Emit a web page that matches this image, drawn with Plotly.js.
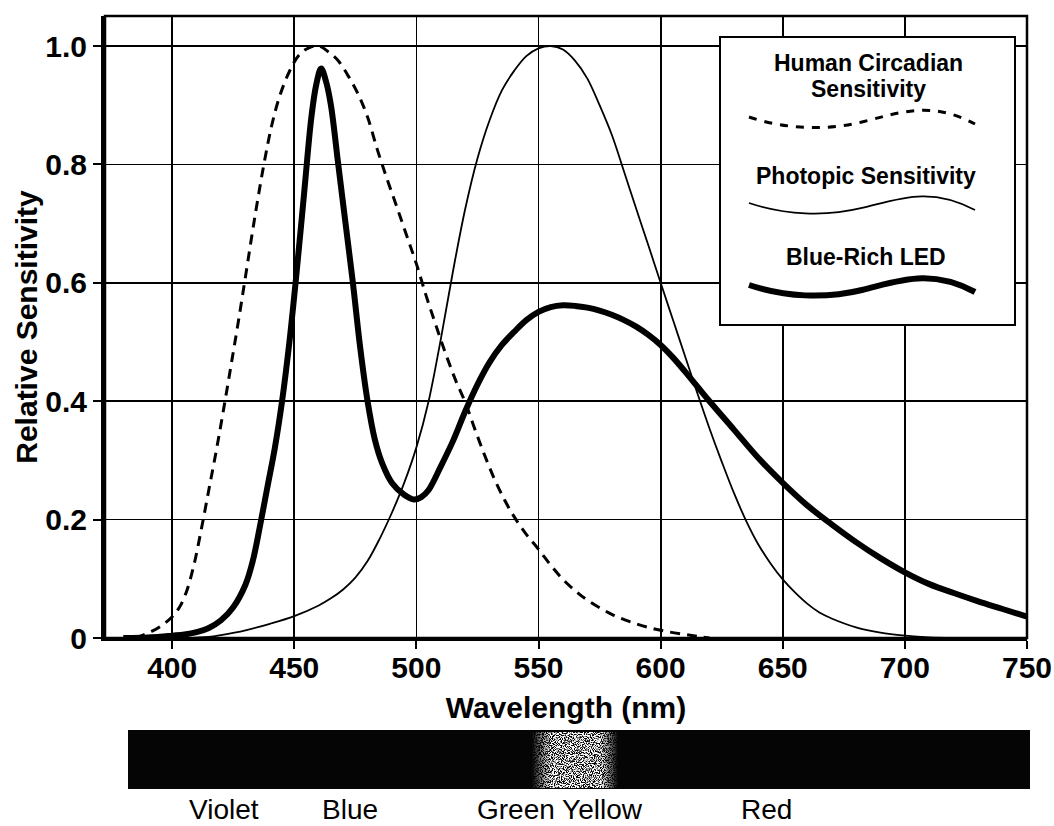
<!DOCTYPE html>
<html>
<head>
<meta charset="utf-8">
<script src="https://cdn.plot.ly/plotly-3.0.1.min.js"></script>
<style>
  html, body { margin: 0; padding: 0; background: #fff; }
  #chart { width: 1054px; height: 826px; }
</style>
</head>
<body>
<div id="chart"></div>
<script>
// ---------- data ----------
const circadianWavelength = [385,388,392,396,400,403,406,409,412,415,418,421,424,427,430,434,438,441,444,448,452,456,460,464,468,472,476,480,484,488,492,496,500,504,508,512,516,520,524,528,532,536,540,545,550,555,560,565,570,580,590,600,610,615,620];
const circadianSensitivity = [0,0.005,0.012,0.022,0.036,0.052,0.08,0.125,0.185,0.25,0.315,0.385,0.458,0.532,0.61,0.715,0.81,0.87,0.915,0.957,0.985,0.997,1.0,0.99,0.975,0.95,0.92,0.88,0.825,0.775,0.728,0.68,0.632,0.578,0.528,0.48,0.436,0.398,0.352,0.308,0.268,0.234,0.205,0.175,0.15,0.123,0.099,0.08,0.064,0.04,0.024,0.013,0.006,0.003,0];

const photopicWavelength = [405,415,420,430,440,450,460,465,470,475,480,485,490,495,500,505,510,515,520,525,530,535,540,545,550,555,560,565,570,575,580,585,590,595,600,605,610,615,620,625,630,635,640,645,650,655,660,665,670,680,690,700,710,720];
const photopicSensitivity = [0,0.002,0.005,0.013,0.024,0.037,0.055,0.067,0.082,0.102,0.13,0.168,0.212,0.262,0.322,0.40,0.505,0.62,0.725,0.81,0.875,0.925,0.958,0.983,0.996,1.0,0.994,0.975,0.945,0.90,0.85,0.788,0.725,0.663,0.60,0.538,0.476,0.414,0.354,0.298,0.245,0.198,0.158,0.126,0.099,0.077,0.058,0.043,0.033,0.018,0.009,0.004,0.001,0];

const ledWavelength = [380,390,395,400,405,410,415,420,425,430,433,436,439,442,445,448,451,454,457,459,461,463,465,468,471,474,477,480,483,486,490,495,499,502,505,510,515,520,525,530,535,540,545,550,555,560,565,570,575,580,585,590,595,600,605,610,615,620,630,640,650,660,670,680,690,700,710,720,730,740,750];
const ledSensitivity = [0,0.001,0.002,0.004,0.006,0.01,0.017,0.03,0.052,0.09,0.13,0.19,0.255,0.32,0.40,0.50,0.62,0.75,0.88,0.935,0.962,0.94,0.90,0.80,0.70,0.60,0.49,0.40,0.335,0.295,0.262,0.242,0.234,0.238,0.25,0.29,0.333,0.383,0.428,0.466,0.495,0.517,0.537,0.551,0.559,0.562,0.561,0.558,0.553,0.546,0.537,0.526,0.512,0.495,0.474,0.45,0.425,0.40,0.352,0.304,0.262,0.224,0.192,0.162,0.135,0.111,0.091,0.076,0.062,0.049,0.036];

const seriesNames = ['Human Circadian Sensitivity', 'Photopic Sensitivity', 'Blue-Rich LED'];
const xTickVals = [400,450,500,550,600,650,700,750];
const xTickText = ['400','450','500','550','600','650','700','750'];
const yTickVals = [0,0.2,0.4,0.6,0.8,1.0];
const yTickText = ['0','0.2','0.4','0.6','0.8','1.0'];
const spectrumLabels = ['Violet','Blue','Green Yellow','Red'];

// ---------- layout helpers (pixel -> paper) ----------
const W = 1054, H = 826;
const M = {l: 105, r: 27, t: 16, b: 188};
const PW = W - M.l - M.r, PH = H - M.t - M.b;
const px = x => (x - M.l) / PW;
const py = y => (H - M.b - y) / PH;
const pt = (x, y) => px(x).toFixed(5) + ',' + py(y).toFixed(5);
function wave(dy) {
  return 'M' + pt(749, 117 + dy) +
         ' C' + pt(785, 129 + dy) + ' ' + pt(825, 131 + dy) + ' ' + pt(862, 122 + dy) +
         ' S' + pt(930, 100 + dy) + ' ' + pt(975, 124 + dy);
}

// spectrum bar artwork (black band with a speckled light patch)
const BAR = {x0: 128, x1: 1030, y0: 730, y1: 789};
const barSvg =
  '<svg xmlns="http://www.w3.org/2000/svg" width="902" height="59" viewBox="0 0 902 59">' +
  '<defs>' +
  '<filter id="f" x="0" y="0" width="100%" height="100%">' +
  '<feTurbulence type="fractalNoise" baseFrequency="0.9" numOctaves="2" seed="7" result="t"/>' +
  '<feColorMatrix in="t" type="matrix" values="0 0 0 0 1  0 0 0 0 1  0 0 0 0 1  7 0 0 0 -2.9" result="w"/>' +
  '<feComposite in="w" in2="SourceGraphic" operator="in"/>' +
  '</filter>' +
  '<linearGradient id="g" x1="0" x2="1" y1="0" y2="0">' +
  '<stop offset="0" stop-color="#fff" stop-opacity="0"/>' +
  '<stop offset="0.22" stop-color="#fff" stop-opacity="1"/>' +
  '<stop offset="0.8" stop-color="#fff" stop-opacity="1"/>' +
  '<stop offset="1" stop-color="#fff" stop-opacity="0"/>' +
  '</linearGradient>' +
  '</defs>' +
  '<rect width="902" height="59" fill="#050505"/>' +
  '<rect x="404" y="2" width="86" height="56" fill="url(#g)" filter="url(#f)"/>' +
  '</svg>';

const FONT = 'Liberation Sans, Arial, Helvetica, sans-serif';
const black = '#000';

const SM = 1.0;
const traces = [
  {x: circadianWavelength, y: circadianSensitivity, name: seriesNames[0], type: 'scatter', mode: 'lines',
   line: {color: black, width: 3, dash: '10px,7px', shape: 'spline', smoothing: SM}},
  {x: photopicWavelength, y: photopicSensitivity, name: seriesNames[1], type: 'scatter', mode: 'lines',
   line: {color: black, width: 1.8, shape: 'spline', smoothing: SM}},
  {x: ledWavelength, y: ledSensitivity, name: seriesNames[2], type: 'scatter', mode: 'lines',
   line: {color: black, width: 6, shape: 'spline', smoothing: SM}}
];

const shapes = [
  // plot frame
  {type: 'rect', xref: 'paper', yref: 'paper', x0: 0, x1: 1, y0: 0, y1: 1,
   line: {color: black, width: 2.5}, fillcolor: 'rgba(0,0,0,0)', layer: 'above'},
  // legend box
  {type: 'rect', xref: 'paper', yref: 'paper', x0: px(720), x1: px(1015), y0: py(325), y1: py(37),
   line: {color: black, width: 2}, fillcolor: '#fff', layer: 'above'},
  {type: 'path', xref: 'paper', yref: 'paper', path: wave(0),
   line: {color: black, width: 3, dash: '8px,8px'}, layer: 'above'},
  {type: 'path', xref: 'paper', yref: 'paper', path: wave(86),
   line: {color: black, width: 1.8}, layer: 'above'},
  {type: 'path', xref: 'paper', yref: 'paper', path: wave(168),
   line: {color: black, width: 6}, layer: 'above'}
];

const images = [{
  source: 'data:image/svg+xml;charset=utf-8,' + encodeURIComponent(barSvg),
  xref: 'paper', yref: 'paper',
  x: px(BAR.x0), y: py(BAR.y0), sizex: px(BAR.x1) - px(BAR.x0), sizey: py(BAR.y0) - py(BAR.y1),
  xanchor: 'left', yanchor: 'top', sizing: 'stretch', layer: 'above'
}];

const legendFont = {family: FONT, size: 23, color: black, weight: 700};
const spectrumFont = {family: FONT, size: 28, color: black};
const annotations = [
  {text: 'Human Circadian', x: px(868), y: py(63)},
  {text: 'Sensitivity', x: px(868), y: py(89)},
  {text: 'Photopic Sensitivity', x: px(866), y: py(176)},
  {text: 'Blue-Rich LED', x: px(866), y: py(257)}
].map(a => Object.assign(a, {xref: 'paper', yref: 'paper', xanchor: 'center', yanchor: 'middle',
                              showarrow: false, font: legendFont}));

const labelX = [224, 350, 560, 766];
spectrumLabels.forEach((t, i) => annotations.push({
  text: t, x: px(labelX[i]), y: py(810), xref: 'paper', yref: 'paper',
  xanchor: 'center', yanchor: 'middle', showarrow: false, font: spectrumFont
}));

const layout = {
  width: W, height: H,
  margin: M,
  paper_bgcolor: '#fff', plot_bgcolor: '#fff',
  showlegend: false,
  font: {family: FONT, color: black},
  xaxis: {
    range: [372.5, 750],
    tickvals: xTickVals, ticktext: xTickText,
    ticks: 'outside', ticklen: 8, tickwidth: 2, tickcolor: black,
    ticklabelstandoff: -7,
    showgrid: true, gridcolor: black, gridwidth: 1.8,
    zeroline: false, showline: true, linecolor: black, linewidth: 3,
    tickfont: {family: FONT, size: 30, color: black, weight: 700},
    title: {text: 'Wavelength (nm)', standoff: 14,
            font: {family: FONT, size: 30, color: black, weight: 700}},
    automargin: false, fixedrange: true
  },
  yaxis: {
    range: [0, 1.0507],
    tickvals: yTickVals, ticktext: yTickText,
    ticks: 'outside', ticklen: 8, tickwidth: 2, tickcolor: black,
    showgrid: true, gridcolor: black, gridwidth: 1.8,
    zeroline: false, showline: true, linecolor: black, linewidth: 4,
    tickfont: {family: FONT, size: 30, color: black, weight: 700},
    title: {text: 'Relative Sensitivity', standoff: 0,
            font: {family: FONT, size: 30, color: black, weight: 700}},
    automargin: false, fixedrange: true
  },
  shapes: shapes,
  images: images,
  annotations: annotations
};

Plotly.newPlot('chart', traces, layout, {displayModeBar: false, staticPlot: true});
</script>
</body>
</html>
